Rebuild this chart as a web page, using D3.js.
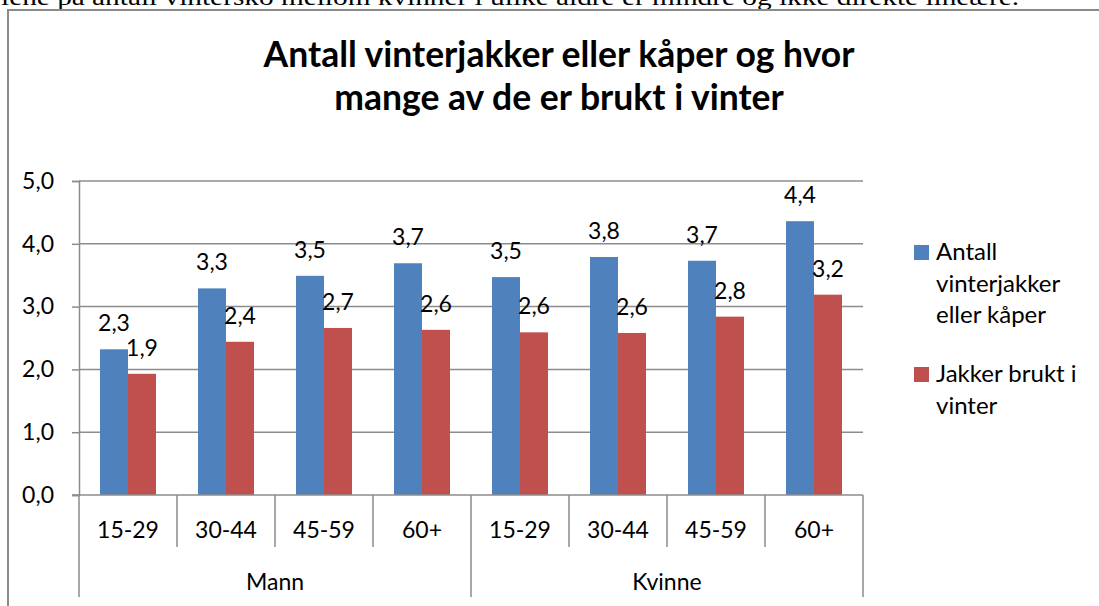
<!DOCTYPE html>
<html><head><meta charset="utf-8">
<script src="https://cdn.jsdelivr.net/npm/d3@7"></script>
<style>
html,body{margin:0;padding:0;background:#fff;}
svg{display:block;}
</style></head>
<body>
<svg id="c" width="1099" height="606"></svg>
<script>
const groups = ["Mann", "Kvinne"];
const ageGroups = ["15-29", "30-44", "45-59", "60+"];
const seriesNames = ["Antall vinterjakker eller kåper", "Jakker brukt i vinter"];
const antallValues = [2.32, 3.29, 3.49, 3.69, 3.47, 3.79, 3.73, 4.36];
const bruktValues  = [1.93, 2.44, 2.66, 2.63, 2.59, 2.58, 2.84, 3.19];
const yTicks = [0, 1, 2, 3, 4, 5];
const titleLines = ["Antall vinterjakker eller kåper og hvor", "mange av de er brukt i vinter"];
const topText = "lene på antall vintersko mellom kvinner i ulike aldre er mindre og ikke direkte lineære.";
const colors = ["#4F81BD", "#C0504D"];

const svg = d3.select("#c");
const font = "Lato, 'Open Sans', sans-serif";
const gridColor = "#8c8c8c";

// page text above chart (cut off)
svg.append("text").attr("x", 1).attr("y", 5)
  .attr("font-family", "'Liberation Serif', 'Times New Roman', serif")
  .attr("font-size", 23).attr("fill", "#000")
  .attr("textLength", 1018).attr("lengthAdjust", "spacingAndGlyphs")
  .text(topText);

// chart frame
svg.append("path").attr("d", "M8,606 L8,10 L1099,10")
  .attr("fill", "none").attr("stroke", "#8a8a8a").attr("stroke-width", 2);

// title
svg.append("g").selectAll("text").data(titleLines).join("text")
  .attr("x", 559).attr("y", (d, i) => 67 + i * 43)
  .attr("text-anchor", "middle").attr("font-family", font)
  .attr("font-weight", "bold").attr("font-size", 35.5).attr("fill", "#000")
  .text(d => d);

// data table
const cats = [];
groups.forEach(g => ageGroups.forEach(a => cats.push({group: g, age: a})));
cats.forEach((c, i) => { c.i = i; c.values = [antallValues[i], bruktValues[i]]; });

const x = d3.scaleBand().domain(d3.range(cats.length)).range([79, 863]).paddingInner(0).paddingOuter(0);
const xs = d3.scaleBand().domain([0, 1]).range([21, 77]).padding(0);
const y = d3.scaleLinear().domain([0, 5]).range([495, 181]);

// gridlines
svg.append("g").selectAll("line").data(yTicks.filter(t => t > 0)).join("line")
  .attr("x1", 79).attr("x2", 863).attr("y1", d => y(d)).attr("y2", d => y(d))
  .attr("stroke", gridColor).attr("stroke-width", 1.5);

// y axis
const yAxis = d3.axisLeft(y).tickValues(yTicks).tickSize(7).tickPadding(18)
  .tickFormat(d => d3.format(".1f")(d).replace(".", ","));
const gy = svg.append("g").attr("transform", "translate(79,0)").call(yAxis);
gy.select(".domain").attr("stroke", gridColor).attr("stroke-width", 1.5);
gy.selectAll(".tick line").attr("stroke", gridColor).attr("stroke-width", 1.5);
gy.selectAll(".tick text").attr("font-family", font).attr("font-size", 23).attr("fill", "#000");

// bars
const gBars = svg.append("g");
const catG = gBars.selectAll("g").data(cats).join("g")
  .attr("transform", d => `translate(${x(d.i)},0)`);
catG.selectAll("rect").data(d => d.values.map((v, s) => ({v, s}))).join("rect")
  .attr("x", d => xs(d.s)).attr("width", xs.bandwidth())
  .attr("y", d => y(d.v)).attr("height", d => y(0) - y(d.v))
  .attr("fill", d => colors[d.s]);
catG.selectAll("text").data(d => d.values.map((v, s) => ({v, s}))).join("text")
  .attr("x", d => xs(d.s) + xs.bandwidth() / 2)
  .attr("y", d => y(d.v) - 18)
  .attr("text-anchor", "middle").attr("font-family", font).attr("font-size", 23).attr("fill", "#000")
  .text(d => d3.format(".1f")(d.v).replace(".", ","));

// x axis line
svg.append("line").attr("x1", 72).attr("x2", 863).attr("y1", 495).attr("y2", 495)
  .attr("stroke", gridColor).attr("stroke-width", 1.5);

// category separators
const bounds = d3.range(cats.length + 1).map(i => i < cats.length ? x(i) : x(cats.length - 1) + x.bandwidth());
svg.append("g").selectAll("line").data(bounds).join("line")
  .attr("x1", d => d).attr("x2", d => d)
  .attr("y1", 495).attr("y2", (d, i) => (i % ageGroups.length === 0) ? 597 : 547)
  .attr("stroke", gridColor).attr("stroke-width", 1.5);

// age labels
svg.append("g").selectAll("text").data(cats).join("text")
  .attr("x", d => x(d.i) + x.bandwidth() / 2).attr("y", 538)
  .attr("text-anchor", "middle").attr("font-family", font).attr("font-size", 23).attr("fill", "#000")
  .text(d => d.age);

// group labels
svg.append("g").selectAll("text").data(groups).join("text")
  .attr("x", (d, i) => (x(i * 4) + x(i * 4 + 3) + x.bandwidth()) / 2).attr("y", 590)
  .attr("text-anchor", "middle").attr("font-family", font).attr("font-size", 23).attr("fill", "#000")
  .text(d => d);

// legend
const legendLines = [["Antall", "vinterjakker", "eller kåper"], ["Jakker brukt i", "vinter"]];
const legendTop = [245, 367];
const lg = svg.append("g").selectAll("g").data(seriesNames).join("g")
  .attr("transform", (d, i) => `translate(914,${legendTop[i]})`);
lg.append("rect").attr("width", 15).attr("height", 15).attr("fill", (d, i) => colors[i]);
lg.selectAll("text").data((d, i) => legendLines[i]).join("text")
  .attr("x", 22).attr("y", (d, j) => 15 + j * 31.5)
  .attr("font-family", font).attr("font-size", 24).attr("fill", "#000")
  .text(d => d);
</script>
</body></html>
